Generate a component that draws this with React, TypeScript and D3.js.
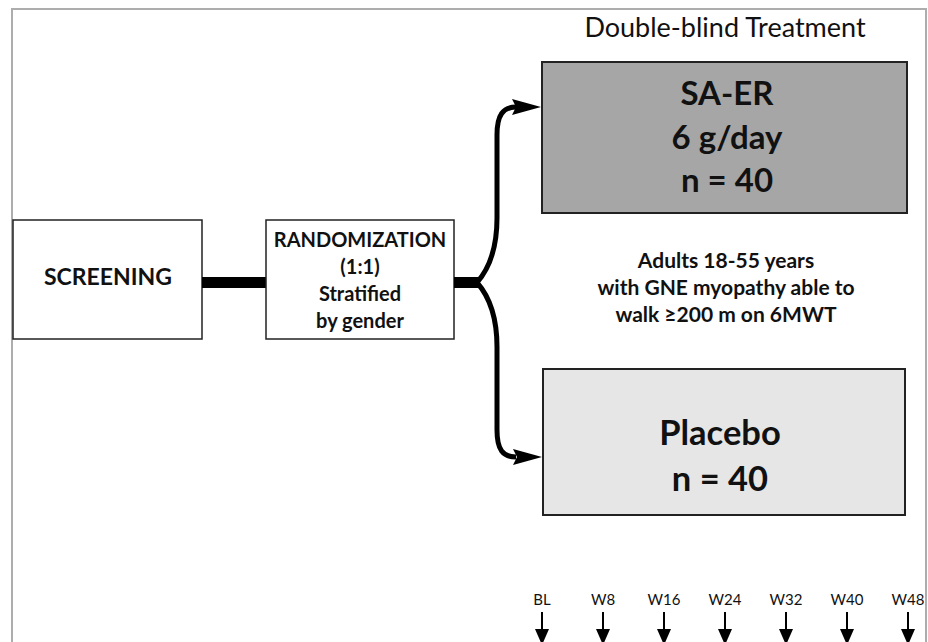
import * as d3 from 'd3';

const weeks = ['BL', 'W8', 'W16', 'W24', 'W32', 'W40', 'W48'];
const activeArm = ['SA-ER', '6 g/day', 'n = 40'];
const placeboArm = ['Placebo', 'n = 40'];
const randomLines = ['RANDOMIZATION', '(1:1)', 'Stratified', 'by gender'];
const populationLines = ['Adults 18-55 years', 'with GNE myopathy able to', 'walk \u2265200 m on 6MWT'];

const W = 928;
const H = 642;
const FONT = 'Lato, "Open Sans", sans-serif';

export default function App() {
  const x = d3.scalePoint<string>().domain(weeks).range([542, 908]);

  // branches from the randomization box to both arms
  const up = d3.path();
  up.moveTo(477, 282.5);
  up.bezierCurveTo(488, 270, 497, 250, 497, 218);
  up.lineTo(497, 135);
  up.bezierCurveTo(497, 115, 503, 107, 516, 107);

  const down = d3.path();
  down.moveTo(477, 282.5);
  down.bezierCurveTo(488, 295, 497, 315, 497, 347);
  down.lineTo(497, 430);
  down.bezierCurveTo(497, 450, 503, 457, 516, 457);

  const head = (tx: number, ty: number) =>
    `M${tx},${ty} L${tx - 29},${ty - 8} L${tx - 25},${ty} L${tx - 29},${ty + 8} Z`;

  return (
    <svg width={W} height={H} style={{ position: 'absolute', left: 0, top: 0, background: '#fff' }}>
      {/* frame */}
      <path d={`M12,${H} L12,9 L926,9 L926,${H}`} fill="none" stroke="#adadad" strokeWidth={2} />

      <text x={725} y={37} textAnchor="middle" fontFamily={FONT} fontSize={27} fill="#111">
        Double-blind Treatment
      </text>

      {/* screening */}
      <rect x={13} y={220} width={189} height={119} fill="#fff" stroke="#222" strokeWidth={1.5} />
      <text x={108} y={285} textAnchor="middle" fontFamily={FONT} fontWeight="bold" fontSize={23} fill="#111">
        SCREENING
      </text>

      {/* connector */}
      <line x1={202} x2={266} y1={282.5} y2={282.5} stroke="#000" strokeWidth={11} />

      {/* randomization */}
      <rect x={266} y={220} width={188} height={119} fill="#fff" stroke="#222" strokeWidth={1.5} />
      {randomLines.map((t, i) => (
        <text key={t} x={360} y={247 + i * 27} textAnchor="middle" fontFamily={FONT} fontWeight="bold" fontSize={20} fill="#111">
          {t}
        </text>
      ))}

      {/* branches */}
      <line x1={454} x2={479} y1={282.5} y2={282.5} stroke="#000" strokeWidth={11} />
      <path d={up.toString()} fill="none" stroke="#000" strokeWidth={5} />
      <path d={down.toString()} fill="none" stroke="#000" strokeWidth={5} />
      <path d={head(541, 107)} fill="#000" />
      <path d={head(542, 457)} fill="#000" />

      {/* active arm */}
      <rect x={542} y={62} width={365} height={151} fill="#a6a6a6" stroke="#222" strokeWidth={2} />
      {activeArm.map((t, i) => (
        <text key={t} x={727} y={105 + i * 43.5} textAnchor="middle" fontFamily={FONT} fontWeight="bold" fontSize={33} fill="#111">
          {t}
        </text>
      ))}

      {/* population note */}
      {populationLines.map((t, i) => (
        <text key={t} x={726} y={268 + i * 27} textAnchor="middle" fontFamily={FONT} fontWeight="bold" fontSize={21} fill="#111">
          {t}
        </text>
      ))}

      {/* placebo arm */}
      <rect x={543} y={369} width={362} height={146} fill="#e6e6e6" stroke="#222" strokeWidth={2} />
      {placeboArm.map((t, i) => (
        <text key={t} x={720} y={445 + i * 46} textAnchor="middle" fontFamily={FONT} fontWeight="bold" fontSize={34.5} fill="#111">
          {t}
        </text>
      ))}

      {/* visit timeline */}
      {weeks.map((w) => (
        <g key={w} transform={`translate(${x(w)},0)`}>
          <text y={605} textAnchor="middle" fontFamily={FONT} fontSize={15} fill="#111">
            {w}
          </text>
          <line y1={612} y2={632} stroke="#000" strokeWidth={2} />
          <path d="M-7,629 L7,629 L0,645 Z" fill="#000" />
        </g>
      ))}
    </svg>
  );
}
